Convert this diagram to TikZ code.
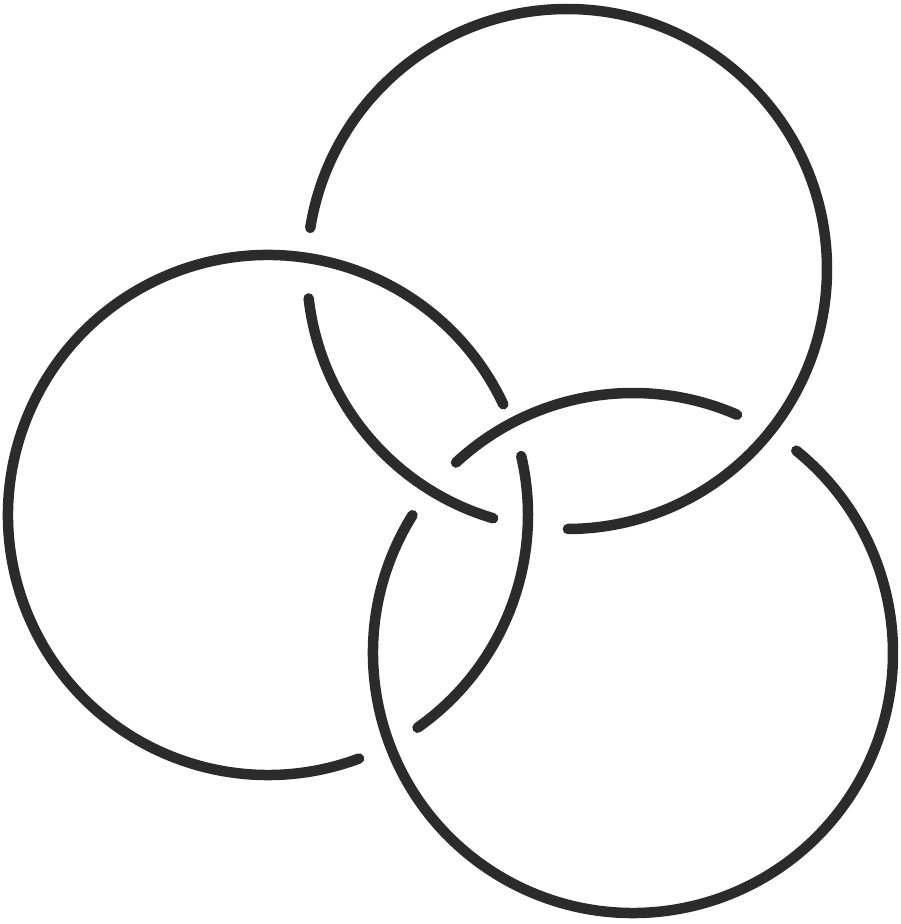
\documentclass[tikz,border=0pt]{standalone}
\definecolor{ink}{HTML}{2B2B2B}
\begin{document}
\begin{tikzpicture}[x=1pt,y=1pt,
  ring/.style={draw=ink,line width=10.5pt,line cap=round}]
\useasboundingbox (0,0) rectangle (900,924);
\fill[white] (0,0) rectangle (900,924);
% centers
\coordinate (ctop) at (567,655);
\coordinate (cleft) at (268,409);
\coordinate (cbot) at (633,271);
% top ring
\draw[ring] (ctop) ++(186.5:260) arc[start angle=186.5,end angle=253.5,radius=260];
\draw[ring] (ctop) ++(270.2:260) arc[start angle=270.2,end angle=530.9,radius=260];
% left ring
\draw[ring] (cleft) ++(-54.9:260) arc[start angle=-54.9,end angle=13.1,radius=260];
\draw[ring] (cleft) ++(25.2:260) arc[start angle=25.2,end angle=290.5,radius=260];
% bottom ring
\draw[ring] (cbot) ++(66.4:260) arc[start angle=66.4,end angle=132.9,radius=260];
\draw[ring] (cbot) ++(148:260) arc[start angle=148,end angle=411.1,radius=260];
\end{tikzpicture}
\end{document}
